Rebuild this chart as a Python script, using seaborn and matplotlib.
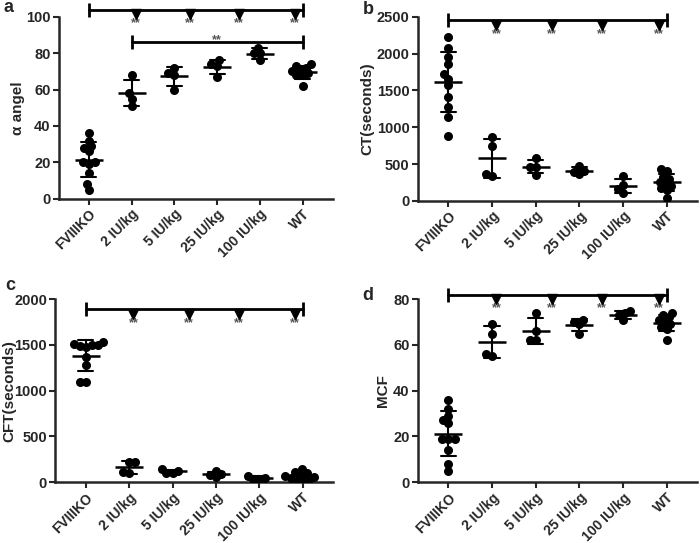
import matplotlib
matplotlib.use("Agg")
import matplotlib.pyplot as plt
import matplotlib.transforms as mtransforms
import numpy as np
import pandas as pd
import seaborn as sns

GROUPS = ["FVIIIKO", "2 IU/kg", "5 IU/kg", "25 IU/kg", "100 IU/kg", "WT"]

# alpha angle
ALPHA = {
    "FVIIIKO": [36, 32, 29, 28, 26, 20, 20, 19, 14, 8, 5],
    "2 IU/kg": [68, 58, 55, 51],
    "5 IU/kg": [72, 69, 68, 60],
    "25 IU/kg": [76, 74, 73, 67],
    "100 IU/kg": [83, 80, 80, 76],
    "WT": [74, 73, 72, 71, 70, 69, 68, 68, 62],
}

# clotting time (seconds)
CT = {
    "FVIIIKO": [2230, 2070, 1960, 1860, 1720, 1660, 1580, 1410, 1270, 1135, 885],
    "2 IU/kg": [867, 740, 362, 345],
    "5 IU/kg": [581, 467, 467, 354],
    "25 IU/kg": [470, 410, 390, 360],
    "100 IU/kg": [340, 210, 160, 110],
    "WT": [430, 400, 330, 300, 260, 230, 200, 170, 150, 40],
}

# clot formation time (seconds)
CFT = {
    "FVIIIKO": [1530, 1510, 1500, 1500, 1490, 1480, 1370, 1280, 1090, 1090],
    "2 IU/kg": [225, 220, 110, 95],
    "5 IU/kg": [145, 120, 105, 100],
    "25 IU/kg": [125, 90, 75, 60],
    "100 IU/kg": [70, 50, 40, 30],
    "WT": [145, 110, 100, 80, 70, 60, 50, 40, 30, 20],
}

# maximum clot firmness
MCF = {
    "FVIIIKO": [36, 32, 29, 27, 26, 19, 19, 19, 14, 8, 5],
    "2 IU/kg": [69, 65, 56, 55],
    "5 IU/kg": [74, 66, 62, 62],
    "25 IU/kg": [71, 70, 69, 65],
    "100 IU/kg": [75, 74, 73, 71],
    "WT": [74, 73, 72, 71, 70, 69, 68, 67, 62],
}

SIG_X = [1.1, 2.37, 3.52, 4.82]
DOT = 6.5        # drawn marker size (pt)
SWARM_DOT = 4.2  # size used for laying out the swarm, so dots overlap a bit


def to_frame(values: dict) -> pd.DataFrame:
    rows = [(g, v) for g in GROUPS for v in values[g]]
    return pd.DataFrame(rows, columns=["group", "value"])


def bracket(ax, x0, x1, y, stars_under=None, star_mid=False):
    fig = ax.figure
    ax.plot([x0, x1], [y, y], color="black", lw=2, marker="|",
            markersize=10, markeredgewidth=2, clip_on=False, zorder=5)
    if stars_under:
        down = ax.transData + mtransforms.ScaledTranslation(0, -3.5 / 72, fig.dpi_scale_trans)
        ax.plot(stars_under, [y] * len(stars_under), linestyle="none", marker="v",
                markersize=7.5, color="black", transform=down, clip_on=False, zorder=5)
        for x in stars_under:
            ax.annotate("**", xy=(x, y), xytext=(0, -10), textcoords="offset points",
                        ha="center", va="center", fontsize=9, color="#555555",
                        annotation_clip=False)
    if star_mid:
        ax.annotate("**", xy=((x0 + x1) / 2, y), xytext=(0, 1.5), textcoords="offset points",
                    ha="center", va="center", fontsize=9, color="#555555",
                    annotation_clip=False)


def panel(ax, values, ylabel, yticks, label_x):
    df = to_frame(values)
    ax.set_ylim(yticks[0], yticks[-1])
    ax.set_xlim(-0.7, 5.7)
    sns.swarmplot(data=df, x="group", y="value", order=GROUPS, color="black",
                  size=SWARM_DOT, ax=ax, zorder=3)
    # freeze the swarm layout, then enlarge the dots
    for coll in ax.collections:
        coll.__dict__.pop("draw", None)
        coll.set_sizes([DOT ** 2])
    sns.pointplot(data=df, x="group", y="value", order=GROUPS, errorbar="sd",
                  capsize=0.35, color="black", marker="_", markersize=20,
                  markeredgewidth=1.8, linestyle="none",
                  err_kws={"linewidth": 1.5}, ax=ax, zorder=4)
    ax.set_xlim(-0.7, 5.7)
    ax.set_ylim(yticks[0], yticks[-1])
    ax.set_yticks(yticks)
    ax.set_xlabel("")
    ax.set_ylabel(ylabel, fontsize=11, fontweight="bold")
    ax.yaxis.set_label_coords(label_x, 0.5)
    ax.set_xticks(range(len(GROUPS)))
    ax.set_xticklabels(GROUPS, rotation=45, ha="right", rotation_mode="anchor")
    ax.tick_params(axis="both", width=1.5, length=4, pad=2)
    ax.tick_params(axis="y", labelsize=10.5)
    ax.tick_params(axis="x", labelsize=10)
    for side in ["left", "bottom"]:
        ax.spines[side].set_linewidth(1.8)
    sns.despine(ax=ax)


sns.set_style("ticks")
plt.rcParams["font.family"] = ["Liberation Sans", "DejaVu Sans"]
plt.rcParams["font.weight"] = "bold"

fig = plt.figure(figsize=(7, 5.43), dpi=100)
ax_a = fig.add_axes([0.084, 0.634, 0.391, 0.335])
ax_b = fig.add_axes([0.597, 0.630, 0.399, 0.339])
ax_c = fig.add_axes([0.079, 0.112, 0.397, 0.337])
ax_d = fig.add_axes([0.597, 0.112, 0.399, 0.337])

panel(ax_a, ALPHA, "\u03b1 angel", [0, 20, 40, 60, 80, 100], -0.125)
bracket(ax_a, 0, 5, 104, stars_under=SIG_X)
bracket(ax_a, 1, 5, 86, star_mid=True)

panel(ax_b, CT, "CT(seconds)", [0, 500, 1000, 1500, 2000, 2500], -0.155)
bracket(ax_b, 0, 5, 2455, stars_under=SIG_X)

panel(ax_c, CFT, "CFT(seconds)", [0, 500, 1000, 1500, 2000], -0.14)
bracket(ax_c, 0, 5, 1890, stars_under=SIG_X)

panel(ax_d, MCF, "MCF", [0, 20, 40, 60, 80], -0.1)
bracket(ax_d, 0, 5, 82, stars_under=SIG_X)

for letter, (px, py) in zip("abcd", [(8, 7), (368, 9), (10, 285), (368, 296)]):
    fig.text(px / 700, 1 - py / 543, letter, fontsize=13, fontweight="bold",
             ha="center", va="center")

fig.savefig("out.png", dpi=100)
